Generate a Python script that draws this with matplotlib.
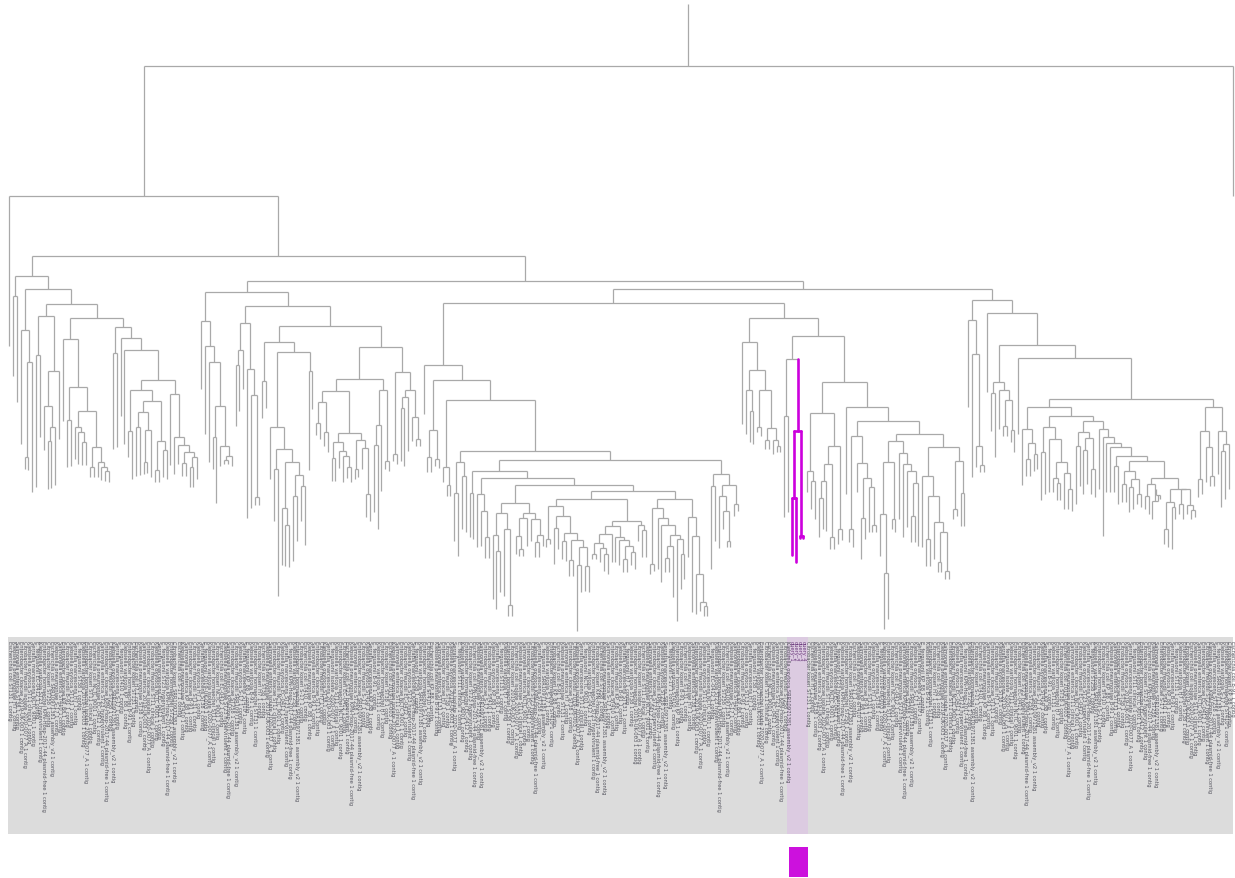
import matplotlib
matplotlib.use("Agg")
import matplotlib.pyplot as plt
from matplotlib.collections import LineCollection
from matplotlib.patches import Rectangle

# Tree topology written as "depth(child,child,...)"; a bare number is a leaf tip depth.
# Depths grow downwards from the root. '*' marks the selected clade.
CLADE_A = (
    "277(297(377,403),290(331(445,363(458(470,471),493)),305("
    "317(356(488,438),372(407(451,428(442(490,489),486)),440)),"
    "319(340(422,388(421(468,467),412(428(460,433(465,443(466,466))),"
    "448(468(478,478),463(478,468(481,472(482,483))))))),"
    "328(354(450,448),339(417,351(445,381("
    "391(432(458,480),402(413(428(477,476),431(463(475,474),478)),442(471(483,483),451(478,480)))),"
    "395(466,438(475,446(465,453(464(477,477),458(468(488,488),480)))))"
    "))))))))"
)

CLADE_200 = "322(390,347(435,363(463,407(438(470,504),447(467,457(461(465,465),467))))))"

CLADE_282 = (
    "307(324(351(366(427,412),390),370(519,396(509,498(506,506)))),"
    "327(343(382(419,409),353(428(480,450(470(522,597),463(509(566,526(567,568)),"
    "476(497(562,542),487(522,546))))),372(471,410))),"
    "348(380(392(403(424(436,440),433(447,453)),"
    "434(443(459(482,482),452(469,457(483,468(479,483)))),441(470(480,478),449(470,495(518,522))))),"
    "391(426(446(513,530),492),462(470,472))),"
    "373(455(462,465),391(398(409(462,467),452),418(442,440(447,447)))))))"
)

SUB_292 = ("504(514(536(600,552(610,593)),530(597,606(617,617))),"
           "514(519(537(555,550(557,557)),547),520(542,536(543(558,558),547))))")
SUB_402 = ("507(540(548,545),517(529(565,550),534(542(560,562),"
           "541(561(577,577),548(566(632,593),567(592,593))))))")
SUB_645 = ("522(527(535(544(555(560,560),549(563,555(572,575))),563),"
           "538(563,541(566,547(560(573,573),553(566,570))))),526(542,531(558,558)))")
SUB_803 = ("500(509(565(575,572),519(570,526(583,536(547(559(573,573),598),540(622,555(590,580)))))),"
           "518(558,537(613,575(615,603(612,607(617,617))))))")

CLADE_438 = (
    "366(415,381(431(458(473,473),460(467,469)),401(468(483,486(497,497)),"
    "452(463(494(542,557),477(530,533)),461(472(494(538,540),479(495(548,512(547,538(559,559))),"
    "486(" + SUB_292 + ",492(500(" + SUB_402 + "," + SUB_645 + ")," + SUB_803 + ")))),"
    "475(487(570,542),486(497(549,512(530,542(548,548))),505(517,512))))))))"
)

CLADE_783 = (
    "319(343(425,371(391(435,412(443,445)),391(428(433,437),429(441(450,450),441(455,447(453,453)))))),"
    "337(360(417(518,513),*432(499(556,563),537(539,539))),"
    "383(414(472(493,482(510,520)),447(465(482(499(538,530),532),538(550,550)),530(545,541))),"
    "408(495,422(437(530(543,548),464(493,479(519(560,540),488(533,526(533,533))))),"
    "435(442(463(515(557,574(630,620)),520(530,533)),454(520,465(538,472(528,484(517(543,543),547))))),"
    "448(477(548,497(540(567,567),523(560,533(563(573,573),572(580,580))))),"
    "462(510(520,517),494(527,527)))))))))"
)

SUB_R600 = ("462(472(485(503,503),480(488(513,510),495(505,508))),"
            "479(485(497(510,515),502(520,496(490,500))),"
            "490(503(530(545,548),508(550,520)),490(505(515,520),506(515,511(520,518))))))")

CLADE_994 = (
    "301(321(408,355(478,447(468,466(473,473)))),"
    "314(393,346(383(394(432,458),391(430,401(427(437,437),431(443,453)))),"
    "359(435,400(408(430(486,444(460(477,477),455(472,470))),"
    "417(428(453(501,495),440(493,463(479(493,484(501,501)),474(510,490(510,512))))),"
    "422(433(447(505,487),439(451(495,485),470(495,498))),"
    "430(490,438(537,444(493,448(493,457(467(493,505)," + SUB_R600 + ")))))))),"
    "408(432(480(498,495),448(483,477(487,487))),432(475,445(452(508,500),490))))))))"
)

TREE = ("5(67(197(347,257(" + CLADE_A + ",282(293(" + CLADE_200 + "," + CLADE_282 + "),"
        "290(304(" + CLADE_438 + "," + CLADE_783 + ")," + CLADE_994 + ")))),197))")

ORGANISMS = ["Escherichia coli", "Klebsiella pneumoniae", "Salmonella enterica",
             "Enterobacter cloacae", "Citrobacter freundii", "Klebsiella oxytoca",
             "Serratia marcescens", "E. fergusonii", "Klebsiella variicola",
             "Enterobacter hormaechei", "Citrobacter koseri"]
STRAINS = ["ST131", "EC-0412", "KP_88", "ST11 clinical", "S-17",
           "2019-UK-003", "ST258", "H7", "ST23 hypervirulent",
           "B-91", "NCTC 9001", "ST410", "isolate 2020-0077_A",
           "SRR10971381 assembly_v2", "ST38", "KPN-Hosp-2017-44 plasmid-free"]
SELECTED_TAG = "query"


def parse(text):
    s = "".join(text.split())
    pos = 0

    def node():
        nonlocal pos
        sel = False
        if s[pos] == "*":
            sel = True
            pos += 1
        start = pos
        while pos < len(s) and (s[pos].isdigit() or s[pos] == "."):
            pos += 1
        nd = {"d": float(s[start:pos]), "kids": [], "sel": sel}
        if pos < len(s) and s[pos] == "(":
            pos += 1
            nd["kids"].append(node())
            while pos < len(s) and s[pos] == ",":
                pos += 1
                nd["kids"].append(node())
            pos += 1
        return nd

    return node()


root = parse(TREE)

leaves = []


def collect(nd, sel=False):
    nd["sel"] = nd["sel"] or sel
    if not nd["kids"]:
        leaves.append(nd)
    for k in nd["kids"]:
        collect(k, nd["sel"])


collect(root)

X_LEFT, X_RIGHT = 9.3, 1233.0
step = (X_RIGHT - X_LEFT) / (len(leaves) - 1)
for i, lf in enumerate(leaves):
    lf["x"] = X_LEFT + i * step


def place(nd):
    if nd["kids"]:
        for k in nd["kids"]:
            place(k)
        nd["x"] = 0.5 * (nd["kids"][0]["x"] + nd["kids"][-1]["x"])


place(root)

grey_segs, sel_segs = [], []


def edges(nd):
    if not nd["kids"]:
        return
    if len(nd["kids"]) > 1:
        seg = [(nd["kids"][0]["x"], nd["d"]), (nd["kids"][-1]["x"], nd["d"])]
        (sel_segs if nd["sel"] else grey_segs).append(seg)
    for k in nd["kids"]:
        seg = [(k["x"], nd["d"]), (k["x"], k["d"])]
        (sel_segs if k["sel"] else grey_segs).append(seg)
        edges(k)


edges(root)

W, H = 1235, 879
fig = plt.figure(figsize=(W / 100, H / 100), dpi=100)
ax = fig.add_axes([0, 0, 1, 1])
ax.set_xlim(0, W)
ax.set_ylim(H, 0)
ax.axis("off")

ax.add_collection(LineCollection(grey_segs, colors="#a9a9a9", linewidths=0.9,
                                 capstyle="butt", zorder=2))
ax.add_collection(LineCollection(sel_segs, colors="#cc00dd", linewidths=1.9,
                                 capstyle="round", joinstyle="round", zorder=3))

# label panel
LABEL_TOP, LABEL_BOTTOM = 638, 835
ax.add_patch(Rectangle((8, LABEL_TOP), 1225, LABEL_BOTTOM - LABEL_TOP,
                       facecolor="#dcdcdc", edgecolor="none", zorder=1))
sel_x = [lf["x"] for lf in leaves if lf["sel"]]
band_l, band_r = min(sel_x) - 4.5, max(sel_x) + 4.5
ax.add_patch(Rectangle((band_l, LABEL_TOP), band_r - band_l, LABEL_BOTTOM - LABEL_TOP,
                       facecolor="#dccbe1", edgecolor="none", zorder=1.5))
ax.add_patch(Rectangle((band_l + 2, 848), band_r - band_l - 2, 30,
                       facecolor="#cc11dd", edgecolor="none", zorder=2))

first_sel = next(i for i, lf in enumerate(leaves) if lf["sel"])
for i, lf in enumerate(leaves):
    if lf["sel"]:
        label = f"{SELECTED_TAG}_{i - first_sel + 1}"
        color = "#6b3a7d"
    else:
        org = ORGANISMS[i % len(ORGANISMS)]
        strain = STRAINS[(i * 7) % len(STRAINS)]
        label = f"{org} {strain} 1 contig"
        color = "#55555f"
    ax.text(lf["x"], LABEL_TOP + 3, label, rotation=-90, rotation_mode="anchor",
            ha="left", va="center", fontsize=3.7, color=color, zorder=4)

fig.savefig("out.png", dpi=100, facecolor="white")
